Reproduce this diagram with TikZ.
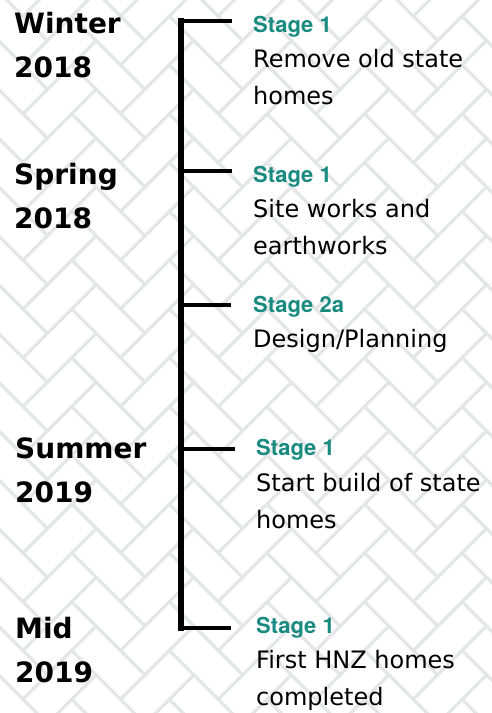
\documentclass[tikz,border=0pt]{standalone}
\usepackage{fontspec}
\setmainfont{DejaVu Sans}
\newfontfamily\herosfont{TeX Gyre Heros}
\definecolor{stageteal}{RGB}{24,138,128}
\definecolor{brickgray}{RGB}{229,230,232}
\tikzset{
  season/.style={font=\bfseries\fontsize{28}{44}\selectfont, anchor=base west, inner sep=0pt, align=left},
  stagelbl/.style={font=\herosfont\bfseries\fontsize{22}{24}\selectfont, text=stageteal, anchor=base west, inner sep=0pt},
  desc/.style={font=\fontsize{24}{37}\selectfont, anchor=base west, inner sep=0pt, align=left},
  tick/.style={line width=4pt},
}
\begin{document}
\begin{tikzpicture}[x=1pt,y=1pt]
        \useasboundingbox (0,0) rectangle (492,-713);
        % herringbone background
        \begin{scope}
        \clip (0,0) rectangle (492,-713);
        \begin{scope}[shift={(47.4,8.2)}, rotate=45, scale=34.5, draw=brickgray, line width=3pt]
        \foreach \s in {-2,...,6} {
          \foreach \k in {-17,...,3} {
            \draw (\k+2*\s,\k-2*\s) rectangle +(2,1);
            \draw (\k+2+2*\s,\k-1-2*\s) rectangle +(1,2);
          }
        }
        \end{scope}
        \end{scope}

        % timeline
        \coordinate (t1) at (232,-20.5);
        \coordinate (t2) at (232,-171);
        \coordinate (t3) at (231,-305);
        \coordinate (t4) at (235,-449);
        \coordinate (t5) at (231,-628);
        \draw[line width=5.5pt] (181,-18) -- (181,-631);
        \draw[tick] (179,-20.5) -- (t1);
        \draw[tick] (181,-171) -- (t2);
        \draw[tick] (181,-305) -- (t3);
        \draw[tick] (181,-449) -- (t4);
        \draw[tick] (179,-628) -- (t5);

        % seasons (base = last line)
        \node[season] (winter) at (14,-77) {Winter\\2018};
        \node[season] (spring) at (14,-228) {Spring\\2018};
        \node[season] (summer) at (15,-502) {Summer\\2019};
        \node[season] (mid) at (15,-682) {Mid\\2019};

        % stages
        \node[stagelbl] (st1) at (253,-32) {Stage 1};
        \node[desc] (d1) at (253,-104) {Remove old state\\homes};
        \node[stagelbl] (st2) at (253,-182) {Stage 1};
        \node[desc] (d2) at (253,-254) {Site works and\\earthworks};
        \node[stagelbl] (st3) at (253,-312) {Stage 2a};
        \node[desc] (d3) at (253,-347) {Design/Planning};
        \node[stagelbl] (st4) at (256,-455) {Stage 1};
        \node[desc] (d4) at (256,-528) {Start build of state\\homes};
        \node[stagelbl] (st5) at (256,-633) {Stage 1};
        \node[desc] (d5) at (256,-705) {First HNZ homes\\completed};
\end{tikzpicture}
\end{document}
